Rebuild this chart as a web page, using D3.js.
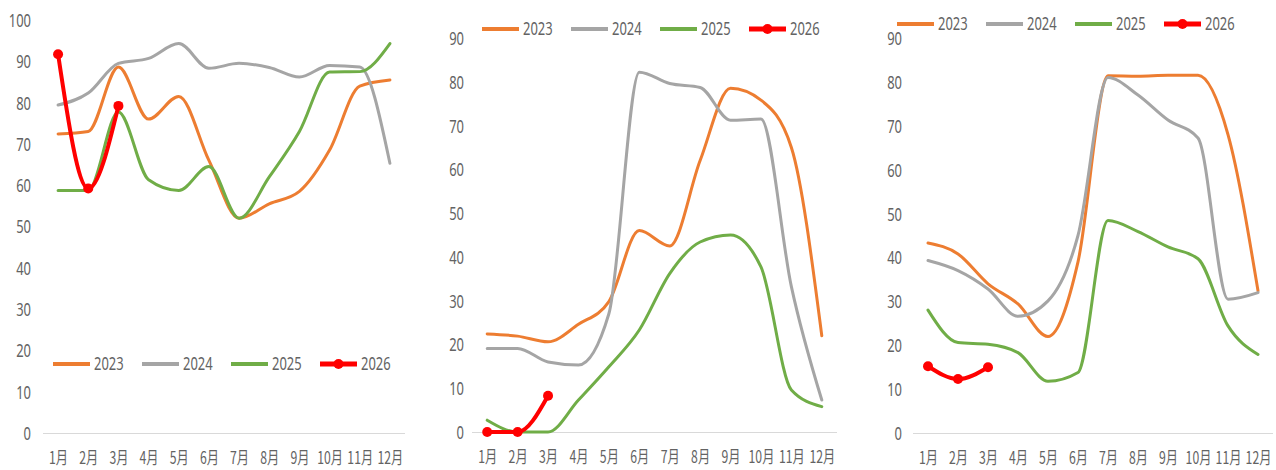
<!DOCTYPE html>
<html>
<head>
<meta charset="utf-8">
<script src="https://cdn.jsdelivr.net/npm/d3@7"></script>
<style>
  html, body { margin: 0; padding: 0; background: #fff; }
  svg { display: block; }
  text { font-family: "Noto Sans CJK SC", "Noto Sans", sans-serif; fill: #636363; }
</style>
</head>
<body>
<svg id="chart" width="1276" height="470"></svg>
<script>
// Month categories shared by all three panels
const months = ["1月", "2月", "3月", "4月", "5月", "6月", "7月", "8月", "9月", "10月", "11月", "12月"];
const years = ["2023", "2024", "2025", "2026"];
const yearColors = ["#ED7D31", "#A5A5A5", "#70AD47", "#FF0000"];

// Panel 1 series
const p1y2023 = [72.4, 73, 88.6, 76, 81.5, 66, 52, 55.5, 58.5, 68.5, 84, 85.5];
const p1y2024 = [79.4, 82.3, 89.5, 90.7, 94.3, 88.3, 89.5, 88.5, 86.2, 89, 88.6, 65.3];
const p1y2025 = [58.7, 58.7, 77.7, 61.3, 58.7, 64.5, 52, 62, 73, 87.4, 87.5, 94.3];
const p1y2026 = [91.7, 59.2, 79.2];
const p1Ticks = [0, 10, 20, 30, 40, 50, 60, 70, 80, 90, 100];

// Panel 2 series
const p2y2023 = [22.4, 21.9, 20.6, 24.6, 29.8, 46, 42.5, 62, 78.5, 75.8, 65, 22];
const p2y2024 = [19.1, 19.1, 16, 15.3, 27, 82.2, 79.6, 78.7, 71.2, 71.5, 33.2, 7.3];
const p2y2025 = [2.7, 0, 0, 7.3, 14.9, 23.3, 36.2, 43.4, 45, 37.7, 9.6, 5.8];
const p2y2026 = [0, 0, 8.3];
const p2Ticks = [0, 10, 20, 30, 40, 50, 60, 70, 80, 90];

// Panel 3 series
const p3y2023 = [43.3, 40.8, 34, 29.4, 22, 39, 81.4, 81.3, 81.5, 81.5, 68, 32.4];
const p3y2024 = [39.3, 37, 32.8, 26.6, 30.1, 45, 81, 77, 71.3, 67.2, 30.5, 32];
const p3y2025 = [28, 20.6, 20.2, 18.3, 11.8, 13.8, 48.4, 45.9, 42.4, 39.7, 24.4, 17.9];
const p3y2026 = [15.2, 12.3, 15];
const p3Ticks = [0, 10, 20, 30, 40, 50, 60, 70, 80, 90];

const panels = [
  { series: [p1y2023, p1y2024, p1y2025, p1y2026], ticks: p1Ticks, yMax: 100,
    x0: 43, x1: 405, yTop: 20, yBottom: 433, labelX: 31, legendX: 53, legendY: 364 },
  { series: [p2y2023, p2y2024, p2y2025, p2y2026], ticks: p2Ticks, yMax: 90,
    x0: 472, x1: 837, yTop: 38, yBottom: 432, labelX: 464, legendX: 482, legendY: 29 },
  { series: [p3y2023, p3y2024, p3y2025, p3y2026], ticks: p3Ticks, yMax: 90,
    x0: 913, x1: 1273, yTop: 38, yBottom: 433, labelX: 902, legendX: 897, legendY: 24 }
];

// Narrow lettering: regular face squeezed horizontally
const SQUEEZE = 0.72;
const FONT_SIZE = 18;

const svg = d3.select("#chart");

panels.forEach(p => {
  const g = svg.append("g");
  const x = d3.scalePoint().domain(months).range([p.x0, p.x1]).padding(0.5);
  const y = d3.scaleLinear().domain([0, p.yMax]).range([p.yBottom, p.yTop]);

  // Y axis labels (no axis line, no gridlines)
  const yAxis = d3.axisLeft(y).tickValues(p.ticks).tickSize(0).tickPadding(0);
  const ya = g.append("g").attr("transform", `translate(${p.labelX},0)`).call(yAxis);
  ya.select(".domain").remove();
  ya.selectAll("text")
    .attr("font-size", FONT_SIZE).attr("fill", "#636363")
    .attr("x", 0).attr("dy", "0.36em")
    .attr("transform", `scale(${SQUEEZE},1)`)
    .style("font-family", '"Noto Sans", sans-serif');

  // X axis baseline with month labels
  const xAxis = d3.axisBottom(x).tickSize(0).tickPadding(0);
  const xa = g.append("g").attr("transform", `translate(0,${p.yBottom})`).call(xAxis);
  xa.select(".domain").attr("stroke", "#D9D9D9").attr("stroke-width", 1)
    .attr("d", `M${p.x0},0.5H${p.x1}`);
  xa.selectAll("text")
    .attr("font-size", FONT_SIZE - 1).attr("fill", "#636363")
    .attr("y", 25).attr("dy", "0.36em")
    .attr("transform", `scale(${SQUEEZE},1)`);

  const line = d3.line()
    .x((d, i) => x(months[i]))
    .y(d => y(d))
    .curve(d3.curveMonotoneX);

  p.series.forEach((s, k) => {
    g.append("path")
      .datum(s)
      .attr("fill", "none")
      .attr("stroke", yearColors[k])
      .attr("stroke-width", k === 3 ? 4 : 3)
      .attr("stroke-linejoin", "round")
      .attr("stroke-linecap", "round")
      .attr("d", line);
    if (k === 3) {
      g.selectAll(null).data(s).enter().append("circle")
        .attr("cx", (d, i) => x(months[i]))
        .attr("cy", d => y(d))
        .attr("r", 5)
        .attr("fill", yearColors[k]);
    }
  });

  // Legend
  const lg = g.append("g").attr("transform", `translate(${p.legendX},${p.legendY})`);
  years.forEach((yr, k) => {
    const ox = k * 89;
    lg.append("line")
      .attr("x1", ox).attr("x2", ox + 37).attr("y1", 0).attr("y2", 0)
      .attr("stroke", yearColors[k]).attr("stroke-width", k === 3 ? 5 : 4);
    if (k === 3) {
      lg.append("circle").attr("cx", ox + 18.5).attr("cy", 0).attr("r", 5).attr("fill", yearColors[k]);
    }
    lg.append("text")
      .attr("transform", `translate(${ox + 41},0) scale(${SQUEEZE},1)`)
      .attr("dy", "0.36em")
      .attr("font-size", FONT_SIZE).attr("fill", "#636363")
      .style("font-family", '"Noto Sans", sans-serif')
      .text(yr);
  });
});
</script>
</body>
</html>
